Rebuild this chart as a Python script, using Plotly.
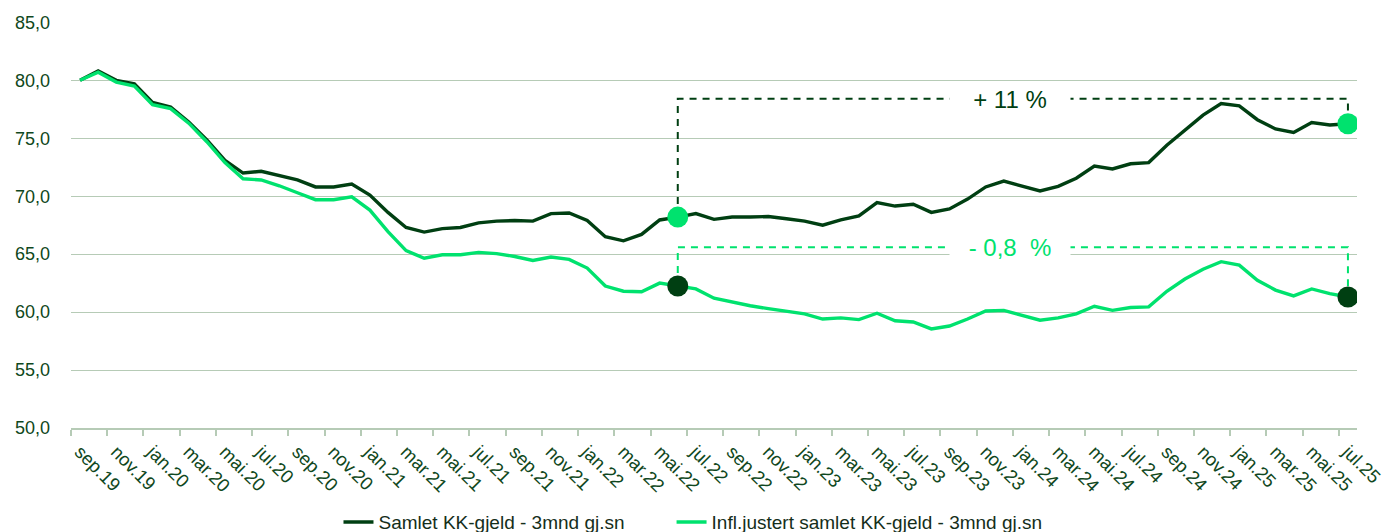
import plotly.graph_objects as go

months = ["sep.19", "okt.19", "nov.19", "des.19",
          "jan.20", "feb.20", "mar.20", "apr.20", "mai.20", "jun.20", "jul.20", "aug.20", "sep.20", "okt.20", "nov.20", "des.20",
          "jan.21", "feb.21", "mar.21", "apr.21", "mai.21", "jun.21", "jul.21", "aug.21", "sep.21", "okt.21", "nov.21", "des.21",
          "jan.22", "feb.22", "mar.22", "apr.22", "mai.22", "jun.22", "jul.22", "aug.22", "sep.22", "okt.22", "nov.22", "des.22",
          "jan.23", "feb.23", "mar.23", "apr.23", "mai.23", "jun.23", "jul.23", "aug.23", "sep.23", "okt.23", "nov.23", "des.23",
          "jan.24", "feb.24", "mar.24", "apr.24", "mai.24", "jun.24", "jul.24", "aug.24", "sep.24", "okt.24", "nov.24", "des.24",
          "jan.25", "feb.25", "mar.25", "apr.25", "mai.25", "jun.25", "jul.25"]

samlet = [80.0, 80.8, 80.0, 79.7, 78.1, 77.7, 76.4, 74.85, 73.1, 72.0, 72.15, 71.75, 71.4, 70.8, 70.8, 71.05,
          70.1, 68.6, 67.3, 66.9, 67.2, 67.3, 67.7, 67.85, 67.9, 67.85, 68.5, 68.55,
          67.9, 66.5, 66.15, 66.7, 67.95, 68.2, 68.5, 68.0, 68.2, 68.2, 68.25, 68.05,
          67.85, 67.5, 67.95, 68.3, 69.45, 69.15, 69.3, 68.6, 68.9, 69.75, 70.8, 71.3,
          70.9, 70.45, 70.85, 71.55, 72.6, 72.35, 72.8, 72.9, 74.4, 75.7, 77.0, 78.0,
          77.8, 76.6, 75.8, 75.5, 76.35, 76.15, 76.25]

infl = [80.0, 80.7, 79.85, 79.5, 77.9, 77.55, 76.3, 74.7, 72.9, 71.5, 71.4, 70.9, 70.3, 69.7, 69.7, 69.95,
        68.8, 66.95, 65.3, 64.65, 64.95, 64.95, 65.15, 65.05, 64.8, 64.45, 64.75, 64.55,
        63.8, 62.25, 61.8, 61.75, 62.5, 62.25, 62.0, 61.2, 60.85, 60.55, 60.3, 60.05,
        59.85, 59.4, 59.5, 59.35, 59.9, 59.25, 59.15, 58.55, 58.8, 59.4, 60.1, 60.15,
        59.75, 59.3, 59.5, 59.85, 60.5, 60.15, 60.4, 60.45, 61.8, 62.85, 63.7, 64.35,
        64.05, 62.75, 61.9, 61.4, 62.0, 61.6, 61.3]

series_names = ["Samlet KK-gjeld - 3mnd gj.sn", "Infl.justert samlet KK-gjeld - 3mnd gj.sn"]
y_ticks = [50, 55, 60, 65, 70, 75, 80, 85]

# comparison annotation
start_idx = months.index("jun.22")
end_idx = len(months) - 1
bracket_level_samlet = 78.4
bracket_level_infl = 65.6
label_samlet = "+ 11 %"
label_infl = "- 0,8\u00a0\u00a0%"
label_x = 51.35

DARK = "#003F12"
LIGHT = "#00E26E"
TEXT = "#0F4720"
GRID = "#B6CBB6"
LEGEND_TEXT = "#152E1A"
FONT = "Liberation Sans, Arial, sans-serif"

x = list(range(len(months)))

fig = go.Figure()

# dashed brackets
fig.add_trace(go.Scatter(
    x=[start_idx, start_idx, end_idx, end_idx],
    y=[samlet[start_idx], bracket_level_samlet, bracket_level_samlet, samlet[end_idx]],
    mode="lines", line=dict(color=DARK, width=2, dash="7px,6px"),
    showlegend=False, hoverinfo="skip"))
fig.add_trace(go.Scatter(
    x=[start_idx, start_idx, end_idx, end_idx],
    y=[infl[start_idx], bracket_level_infl, bracket_level_infl, infl[end_idx]],
    mode="lines", line=dict(color=LIGHT, width=2, dash="7px,6px"),
    showlegend=False, hoverinfo="skip"))

# main series
fig.add_trace(go.Scatter(x=x, y=samlet, mode="lines", name=series_names[0],
                         line=dict(color=DARK, width=3.4), legend="legend"))
fig.add_trace(go.Scatter(x=x, y=infl, mode="lines", name=series_names[1],
                         line=dict(color=LIGHT, width=3.4), legend="legend2"))

# highlight markers
fig.add_trace(go.Scatter(x=[start_idx, end_idx], y=[samlet[start_idx], samlet[end_idx]],
                         mode="markers", marker=dict(color=LIGHT, size=21),
                         showlegend=False, hoverinfo="skip"))
fig.add_trace(go.Scatter(x=[start_idx, end_idx], y=[infl[start_idx], infl[end_idx]],
                         mode="markers", marker=dict(color=DARK, size=21),
                         showlegend=False, hoverinfo="skip"))

fig.add_annotation(x=label_x, y=bracket_level_samlet, text=label_samlet, showarrow=False,
                   font=dict(family=FONT, size=24, color=DARK), bgcolor="white",
                   width=118, height=26, xref="x", yref="y")
fig.add_annotation(x=label_x, y=bracket_level_infl, text=label_infl, showarrow=False,
                   font=dict(family=FONT, size=24, color=LIGHT), bgcolor="white",
                   width=118, height=26, xref="x", yref="y")

boundaries = [i - 0.5 for i in x[::2]]

legend_common = dict(orientation="h", xanchor="left", y=-0.185, yanchor="top",
                     font=dict(family=FONT, size=19, color=LEGEND_TEXT),
                     bgcolor="rgba(0,0,0,0)")

fig.update_layout(
    width=1387, height=532,
    margin=dict(l=71, r=30, t=22, b=104, autoexpand=False),
    paper_bgcolor="white", plot_bgcolor="white",
    separators=", ",
    font=dict(family=FONT, color=TEXT),
    showlegend=True,
    legend=dict(x=0.208, **legend_common),
    legend2=dict(x=0.467, **legend_common),
    xaxis=dict(range=[-0.5, len(months) - 0.5], tickmode="array",
               tickvals=x[::2], ticktext=months[::2], tickangle=45,
               tickfont=dict(family=FONT, size=18.5, color=TEXT),
               ticks="", showgrid=False, zeroline=False, automargin=False,
               ticklabelstandoff=4,
               showline=True, linecolor=GRID, linewidth=1.5,
               minor=dict(tickmode="array", tickvals=boundaries, ticks="outside",
                          ticklen=6, tickcolor=GRID, tickwidth=1.5, showgrid=False)),
    yaxis=dict(range=[50, 85.03], tickmode="array", tickvals=y_ticks, tickformat=".1f",
               tickfont=dict(family=FONT, size=18, color=TEXT),
               showgrid=True, gridcolor=GRID, gridwidth=1.2, zeroline=False,
               automargin=False,
               ticks="", ticklabelstandoff=20, showline=False),
)

fig.write_html("out.html", config={"displayModeBar": False},
               post_script="document.body.style.margin='0';document.body.style.padding='0';")
